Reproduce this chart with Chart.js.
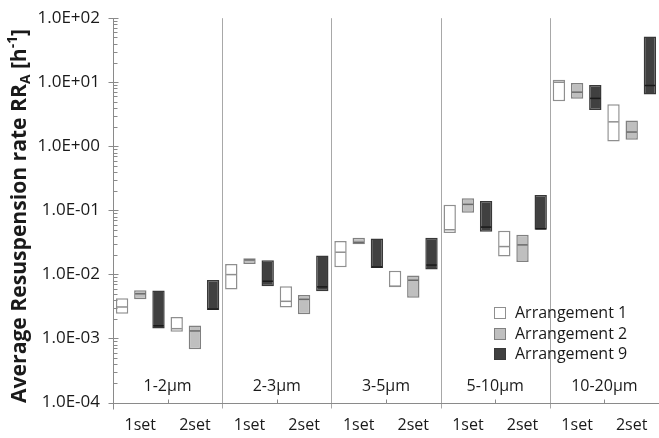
<!DOCTYPE html>
<html>
<head>
<meta charset="utf-8">
<script src="https://cdn.jsdelivr.net/npm/chart.js@4/dist/chart.umd.min.js"></script>
<style>
  html, body { margin: 0; padding: 0; background: #ffffff; }
  canvas { display: block; }
</style>
</head>
<body>
<canvas id="chart" width="659" height="438"></canvas>
<script>
// Particle size ranges (one group of two set-ups each)
const sizeRanges = ['1-2μm', '2-3μm', '3-5μm', '5-10μm', '10-20μm'];
const categories = ['1set', '2set', '1set', '2set', '1set', '2set', '1set', '2set', '1set', '2set'];

// Arrangement 1: range (low..high) and median, resuspension rate [1/h]
const arr1Low    = [2.44e-3, 1.27e-3, 5.82e-3, 3.03e-3, 1.29e-2, 6.32e-3, 4.43e-2, 1.90e-2, 5.03, 1.19];
const arr1High   = [4.23e-3, 2.17e-3, 1.45e-2, 6.55e-3, 3.33e-2, 1.14e-2, 0.122,   4.81e-2, 10.9, 4.52];
const arr1Median = [3.10e-3, 1.42e-3, 9.93e-3, 3.80e-3, 2.22e-2, 6.55e-3, 4.98e-2, 2.72e-2, 10.0, 2.41];

// Arrangement 2
const arr2Low    = [4.08e-3, 6.78e-4, 1.45e-2, 2.39e-3, 2.95e-2, 4.32e-3, 9.21e-2, 1.56e-2, 5.52, 1.27];
const arr2High   = [5.68e-3, 1.59e-3, 1.79e-2, 4.75e-3, 3.74e-2, 9.58e-3, 0.154,   4.17e-2, 9.75, 2.52];
const arr2Median = [4.98e-3, 1.31e-3, 1.68e-2, 4.08e-3, 3.17e-2, 8.11e-3, 0.124,   2.89e-2, 7.00, 1.67];

// Arrangement 9
const arr9Low    = [1.43e-3, 2.79e-3, 6.55e-3, 5.48e-3, 1.26e-2, 1.19e-2, 4.64e-2, 4.98e-2, 3.69, 6.46];
const arr9High   = [5.62e-3, 8.19e-3, 1.67e-2, 1.97e-2, 3.65e-2, 3.74e-2, 0.140,   0.173,   9.08, 52.0];
const arr9Median = [1.58e-3, 2.89e-3, 7.82e-3, 6.39e-3, 1.31e-2, 1.40e-2, 5.48e-2, 5.16e-2, 5.60, 8.89];

// Decade ticks of the logarithmic value axis
const yTickValues = [1e-4, 1e-3, 1e-2, 1e-1, 1e0, 1e1, 1e2];
const yTickLabels = ['1.0E-04', '1.0E-03', '1.0E-02', '1.0E-01', '1.0E+00', '1.0E+01', '1.0E+02'];

const seriesNames = ['Arrangement 1', 'Arrangement 2', 'Arrangement 9'];

const FONT = "'Open Sans', 'DejaVu Sans', sans-serif";
const TEXT = '#1a1a1a';

const styles = [
  { fill: '#ffffff', border: '#8f8f8f', median: '#8f8f8f' },
  { fill: '#bfbfbf', border: '#808080', median: '#6a6a6a' },
  { fill: '#404040', border: '#383838', median: '#1a1a1a' }
];

const ranges = (lo, hi) => lo.map((v, i) => [v, hi[i]]);
const medians = [arr1Median, arr2Median, arr9Median];

const decorPlugin = {
  id: 'decor',
  beforeDatasetsDraw(chart) {
    const { ctx, chartArea: a, scales: { x } } = chart;
    ctx.save();
    ctx.strokeStyle = '#a8a8a8';
    ctx.lineWidth = 1;
    for (let g = 1; g < sizeRanges.length; g++) {
      const px = Math.round((x.getPixelForValue(2 * g - 1) + x.getPixelForValue(2 * g)) / 2) + 0.5;
      ctx.beginPath();
      ctx.moveTo(px, a.top);
      ctx.lineTo(px, a.bottom + 6);
      ctx.stroke();
    }
    ctx.restore();
  },
  afterDatasetsDraw(chart) {
    const { ctx, scales: { y } } = chart;
    ctx.save();
    ctx.lineWidth = 1.5;
    chart.data.datasets.forEach((ds, i) => {
      const meta = chart.getDatasetMeta(i);
      ctx.strokeStyle = styles[i].median;
      meta.data.forEach((bar, j) => {
        const py = y.getPixelForValue(medians[i][j]);
        const half = bar.width / 2;
        ctx.beginPath();
        ctx.moveTo(bar.x - half + 1, py);
        ctx.lineTo(bar.x + half - 1, py);
        ctx.stroke();
      });
    });
    ctx.restore();
  },
  afterDraw(chart) {
    const { ctx, chartArea: a, scales: { x, y } } = chart;
    ctx.save();
    const left = Math.round(a.left) + 0.5;
    const bottom = Math.round(a.bottom) + 0.5;

    // axis lines
    ctx.strokeStyle = '#8a8a8a';
    ctx.lineWidth = 1;
    ctx.beginPath();
    ctx.moveTo(left, a.top);
    ctx.lineTo(left, bottom);
    ctx.lineTo(a.right, bottom);
    ctx.stroke();

    // value axis ticks: major decades across the axis, minor ones inside
    ctx.beginPath();
    yTickValues.forEach(v => {
      const py = Math.round(y.getPixelForValue(v)) + 0.5;
      ctx.moveTo(left - 5, py);
      ctx.lineTo(left + 5, py);
    });
    for (let d = -4; d < 2; d++) {
      for (let m = 2; m <= 9; m++) {
        const py = Math.round(y.getPixelForValue(m * Math.pow(10, d))) + 0.5;
        ctx.moveTo(left, py);
        ctx.lineTo(left + 4, py);
      }
    }
    // category axis ticks
    ctx.moveTo(left, bottom);
    ctx.lineTo(left, bottom + 6);
    for (let g = 0; g < sizeRanges.length; g++) {
      const px = Math.round((x.getPixelForValue(2 * g) + x.getPixelForValue(2 * g + 1)) / 2) + 0.5;
      ctx.moveTo(px, bottom);
      ctx.lineTo(px, bottom - 4);
    }
    ctx.stroke();

    // size range labels above the category axis
    ctx.fillStyle = TEXT;
    ctx.font = `16px ${FONT}`;
    ctx.textAlign = 'center';
    ctx.textBaseline = 'middle';
    sizeRanges.forEach((name, g) => {
      const px = (x.getPixelForValue(2 * g) + x.getPixelForValue(2 * g + 1)) / 2;
      ctx.fillText(name, px, a.bottom - 16);
    });

    // legend
    ctx.textAlign = 'left';
    const rowY = [313, 334, 354];
    seriesNames.forEach((name, i) => {
      ctx.fillStyle = styles[i].fill;
      ctx.fillRect(494, rowY[i] - 6, 12, 12);
      ctx.strokeStyle = styles[i].border;
      ctx.lineWidth = 1;
      ctx.strokeRect(494.5, rowY[i] - 5.5, 11, 11);
      ctx.fillStyle = TEXT;
      ctx.fillText(name, 515, rowY[i]);
    });

    // value axis title with subscript and superscript, sized to the plot height
    const parts = [
      { t: 'Average Resuspension rate RR', rel: 1, dy: 0 },
      { t: 'A', rel: 0.65, dy: 0.28 },
      { t: ' [h', rel: 1, dy: 0 },
      { t: '-1', rel: 0.65, dy: -0.33 },
      { t: ']', rel: 1, dy: 0 }
    ];
    const measure = size => parts.reduce((sum, p) => {
      ctx.font = `bold ${size * p.rel}px ${FONT}`;
      return sum + ctx.measureText(p.t).width;
    }, 0);
    const size = 15 * 374 / measure(15);
    let total = 0;
    parts.forEach(p => {
      ctx.font = `bold ${size * p.rel}px ${FONT}`;
      p.w = ctx.measureText(p.t).width;
      total += p.w;
    });
    ctx.translate(20, 216);
    ctx.rotate(-Math.PI / 2);
    ctx.fillStyle = TEXT;
    ctx.textBaseline = 'middle';
    let cx = -total / 2;
    parts.forEach(p => {
      ctx.font = `bold ${size * p.rel}px ${FONT}`;
      ctx.fillText(p.t, cx, p.dy * size);
      cx += p.w;
    });
    ctx.restore();
  }
};

const datasets = [
  ranges(arr1Low, arr1High),
  ranges(arr2Low, arr2High),
  ranges(arr9Low, arr9High)
].map((data, i) => ({
  label: seriesNames[i],
  data,
  backgroundColor: styles[i].fill,
  borderColor: styles[i].border,
  borderWidth: 1.5,
  borderSkipped: false,
  categoryPercentage: 1.0,
  barPercentage: 0.68
}));

new Chart(document.getElementById('chart'), {
  type: 'bar',
  data: { labels: categories, datasets },
  options: {
    responsive: false,
    devicePixelRatio: 1,
    animation: false,
    layout: { padding: { top: 14, right: 0, bottom: 0, left: 0 } },
    plugins: { legend: { display: false }, tooltip: { enabled: false } },
    scales: {
      x: {
        afterFit: s => { s.height = 35.5; },
        ticks: { color: TEXT, font: { family: FONT, size: 16 }, padding: 8, autoSkip: false, maxRotation: 0 },
        grid: { drawOnChartArea: false, tickLength: 5, color: 'rgba(0,0,0,0)' },
        border: { display: false }
      },
      y: {
        type: 'logarithmic',
        min: 1e-4,
        max: 100,
        afterFit: s => { s.width = 113; },
        afterBuildTicks: s => { s.ticks = yTickValues.map(v => ({ value: v, major: true })); },
        ticks: {
          color: TEXT,
          font: { family: FONT, size: 17 },
          padding: 8,
          autoSkip: false,
          callback: v => yTickLabels[yTickValues.indexOf(v)]
        },
        grid: { drawOnChartArea: false, tickLength: 5, color: 'rgba(0,0,0,0)' },
        border: { display: false }
      }
    }
  },
  plugins: [decorPlugin]
});
</script>
</body>
</html>
